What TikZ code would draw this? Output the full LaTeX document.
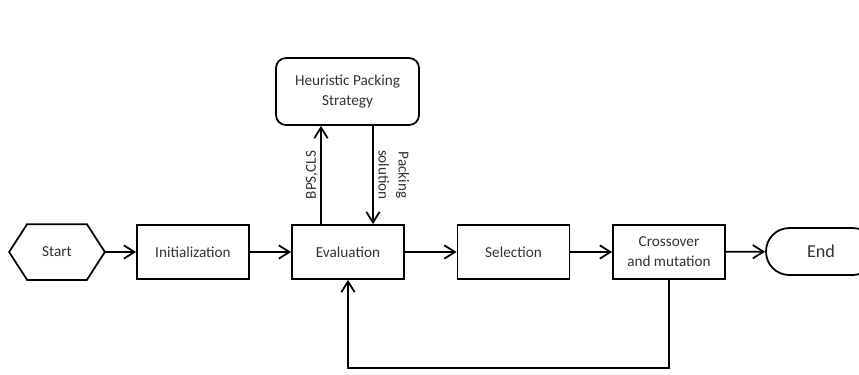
\documentclass[tikz,border=0pt]{standalone}
\usepackage{fontspec}
\setmainfont{Carlito}
\usetikzlibrary{arrows.meta}

\begin{document}
\begin{tikzpicture}[x=0.3mm,y=-0.3mm,line width=1.5pt,
    >={Straight Barb[length=3.2mm,width=4mm,line width=1.5pt]},
    every node/.style={text=black!80,font=\fontsize{13}{17}\selectfont},
    stage/.style={draw,text=black!80,minimum width=33.6mm,minimum height=16.2mm,inner sep=1pt,align=center}]
    \useasboundingbox (0,0) rectangle (859,374);

    \node[minimum width=28.2mm,minimum height=16.2mm,inner sep=0] (start) at (57,252) {Start};
    \draw (start.west) -- ([xshift=5.4mm]start.north west) -- ([xshift=-5.4mm]start.north east)
       -- (start.east) -- ([xshift=-5.4mm]start.south east) -- ([xshift=5.4mm]start.south west) -- cycle;

    \node[stage] (init) at (193,252) {Initialization};
    \node[stage] (eval) at (348,252) {Evaluation};
    \node[stage] (sel) at (513.5,252) {Selection};
    \node[stage] (cross) at (669,252) {Crossover\\and mutation};
    \node[draw,rounded corners=7mm,minimum width=33mm,minimum height=14.1mm,
          font=\fontsize{15.5}{18}\selectfont] (end) at (821,251.5) {End};

    \node[draw,rounded corners=3mm,minimum width=42.9mm,minimum height=20.1mm,align=center]
        (heur) at (347.5,91.5) {Heuristic Packing\\Strategy};

    \draw[->] (start) -- (init);
    \draw[->] (init) -- (eval);
    \draw[->] (eval) -- (sel);
    \draw[->] (sel) -- (cross);
    \draw[->] (cross) -- (end);

    \coordinate (up) at (321,0);
    \coordinate (down) at (373,0);
    \coordinate (back) at (0,368);
    \draw[->] (eval.north -| up) -- node[rotate=90,anchor=south,inner sep=2pt] {BPS,CLS} (heur.south -| up);
    \draw[->] (heur.south -| down) -- node[rotate=-90,anchor=south,align=center,inner sep=4pt] {Packing\\solution} (eval.north -| down);
    \draw[->] (cross.south) -- (cross.south |- back) -| (eval.south);
\end{tikzpicture}
\end{document}
